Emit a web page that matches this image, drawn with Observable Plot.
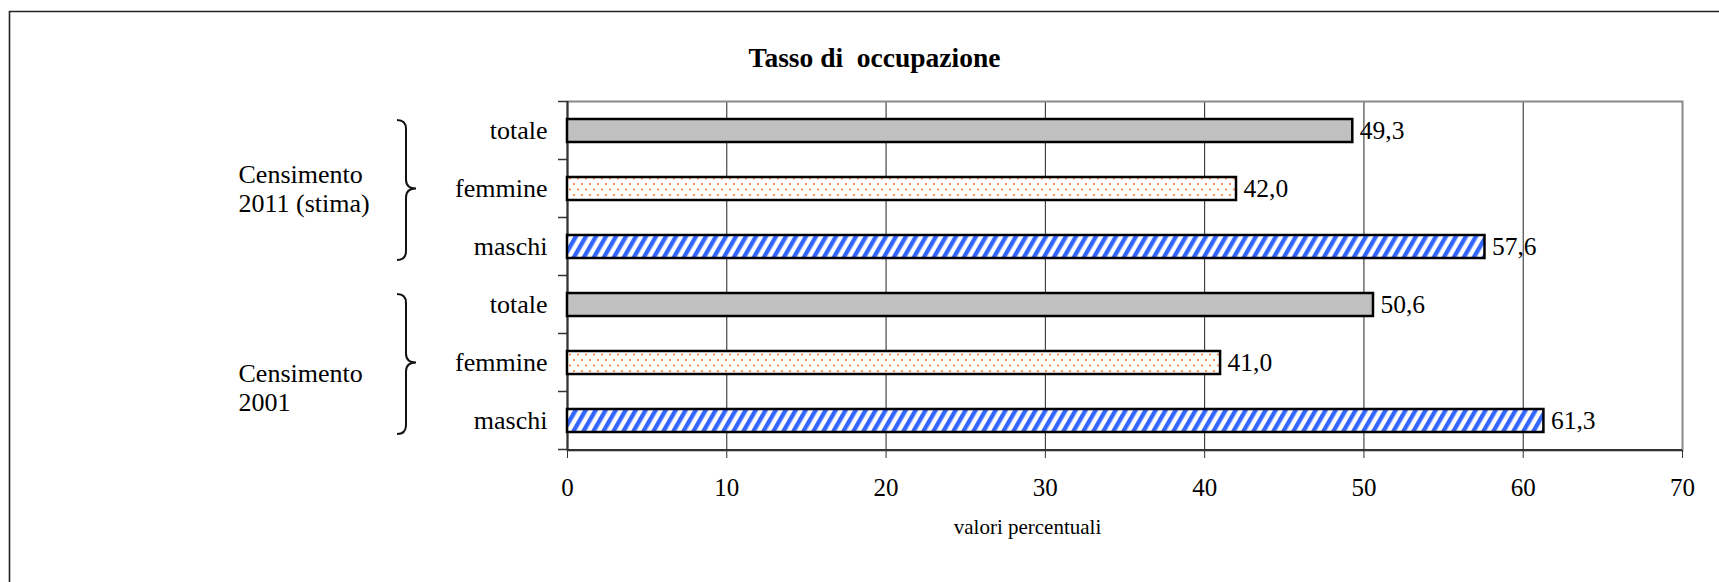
<!DOCTYPE html>
<html><head><meta charset="utf-8">
<script src="https://cdn.jsdelivr.net/npm/d3@7"></script>
<script src="https://cdn.jsdelivr.net/npm/@observablehq/plot@0.6"></script>
<style>html,body{margin:0;padding:0;background:#fff;overflow:hidden} svg text{white-space:pre;}</style>
</head><body><div id="chart"></div>
<script>
const years = ["2011", "2001"];
const groupLabels = ["Censimento\n2011 (stima)", "Censimento\n2001"];
const categories = ["totale", "femmine", "maschi"];
const values2011 = [49.3, 42.0, 57.6];
const values2001 = [50.6, 41.0, 61.3];
const xTicks = [0, 10, 20, 30, 40, 50, 60, 70];
const gridTicks = [10, 20, 30, 40, 50, 60];
const title = "Tasso di  occupazione";
const xLabel = "valori percentuali";

const seriesValues = {"2011": values2011, "2001": values2001};
const data = years.flatMap(yr => categories.map((c, i) => ({year: yr, cat: c, key: yr + "|" + c, value: seriesValues[yr][i]})));
const keys = data.map(d => d.key);
const fmt = v => d3.format(".1f")(v).replace(".", ",");
const fills = {totale: "#C0C0C0", femmine: "url(#dots)", maschi: "url(#stripes)"};
const serif = "'Liberation Serif', 'Times New Roman', serif";

const W = 1719, H = 582;
const mL = 567, mR = 37, mT = 101, mB = 132;
const frameCx = (mL + (W - mR)) / 2;

const plot = Plot.plot({
  width: W, height: H,
  marginLeft: mL, marginRight: mR, marginTop: mT, marginBottom: mB,
  style: {fontFamily: serif, fontSize: "25px", background: "white", color: "black", overflow: "visible"},
  x: {domain: [0, 70], label: null},
  y: {domain: keys, paddingInner: 0.6, paddingOuter: 0.3, label: null},
  marks: [
    Plot.gridX(gridTicks, {stroke: "#222", strokeOpacity: 1, strokeWidth: 1}),
    Plot.frame({stroke: "#8a8a8a", strokeWidth: 2}),
    Plot.ruleX([0], {stroke: "#333", strokeWidth: 2}),
    Plot.axisX({ticks: xTicks, tickSize: 8, tickPadding: 20, fontSize: 25, stroke: "#333", tickFormat: d => String(d), label: null}),
    Plot.axisY({tickSize: 0, tickPadding: 20, fontSize: 26, tickFormat: d => d.split("|")[1], label: null}),
    ...categories.map(c => Plot.barX(data.filter(d => d.cat === c), {
      x: "value", y: "key", fill: fills[c], stroke: "black", strokeWidth: 2.5
    })),
    Plot.text(data, {x: "value", y: "key", text: d => fmt(d.value), textAnchor: "start", dx: 7, fontSize: 25.5, fill: "black"}),
    Plot.text([groupLabels[0]], {y: [years[0] + "|femmine"], text: d => d, frameAnchor: "left", textAnchor: "start", dx: 238 - mL, dy: -1, fontSize: 26, lineHeight: 1.12}),
    Plot.text([groupLabels[1]], {y: [years[1] + "|femmine"], text: d => d, frameAnchor: "left", textAnchor: "start", dx: 238 - mL, dy: 24, fontSize: 26, lineHeight: 1.12}),
    Plot.text([title], {frameAnchor: "top", lineAnchor: "bottom", dx: 874 - frameCx, dy: 66 - mT, fontSize: 27.5, fontWeight: "bold"}),
    Plot.text([xLabel], {frameAnchor: "bottom", lineAnchor: "bottom", dx: 1027 - frameCx, dy: 533 - (H - mB), fontSize: 21})
  ]
});

const svg = d3.select(plot);
const defs = svg.insert("defs", ":first-child");
const dots = defs.append("pattern").attr("id", "dots").attr("patternUnits", "userSpaceOnUse")
  .attr("width", 8).attr("height", 11);
dots.append("rect").attr("width", 8).attr("height", 11).attr("fill", "white");
dots.append("circle").attr("cx", 2).attr("cy", 2.5).attr("r", 1.1).attr("fill", "#FF7A30");
dots.append("circle").attr("cx", 6).attr("cy", 8).attr("r", 1.1).attr("fill", "#FF7A30");
const per = 8.66;
const stripes = defs.append("pattern").attr("id", "stripes").attr("patternUnits", "userSpaceOnUse")
  .attr("width", per).attr("height", 20).attr("patternTransform", "rotate(30)");
stripes.append("rect").attr("width", per).attr("height", 20).attr("fill", "white");
stripes.append("rect").attr("x", 0).attr("width", per * 0.5).attr("height", 20).attr("fill", "#3366FF");

const y = plot.scale("y");
const gap = (y.step - y.bandwidth) / 2;
const deco = svg.append("g");
// outer border
deco.append("path").attr("d", `M9.5,${H} V11.5 H${W}`).attr("fill", "none").attr("stroke", "#222").attr("stroke-width", 1.6);
// bottom axis line
deco.append("line").attr("x1", mL).attr("x2", W - mR).attr("y1", H - mB).attr("y2", H - mB).attr("stroke", "#333").attr("stroke-width", 2);
// y boundary ticks
const bounds = keys.map(k => y.apply(k) - gap).concat([y.apply(keys[keys.length - 1]) + y.bandwidth + gap]);
bounds.forEach(b => deco.append("line").attr("x1", mL - 9).attr("x2", mL).attr("y1", b).attr("y2", b).attr("stroke", "#333").attr("stroke-width", 1.5));
// braces
years.forEach(yr => {
  const y0 = y.apply(yr + "|totale") + 1;
  const y1 = y.apply(yr + "|maschi") + y.bandwidth + 2;
  const ym = y.apply(yr + "|femmine") + y.bandwidth / 2;
  const xa = 397, xb = 406, xt = 416, r = 9;
  const d = `M${xa},${y0} Q${xb},${y0} ${xb},${y0 + r} L${xb},${ym - r} Q${xb},${ym} ${xt},${ym} Q${xb},${ym} ${xb},${ym + r} L${xb},${y1 - r} Q${xb},${y1} ${xa},${y1}`;
  deco.append("path").attr("d", d).attr("fill", "none").attr("stroke", "#111").attr("stroke-width", 2);
});

document.getElementById("chart").appendChild(plot);
</script>
</body></html>
